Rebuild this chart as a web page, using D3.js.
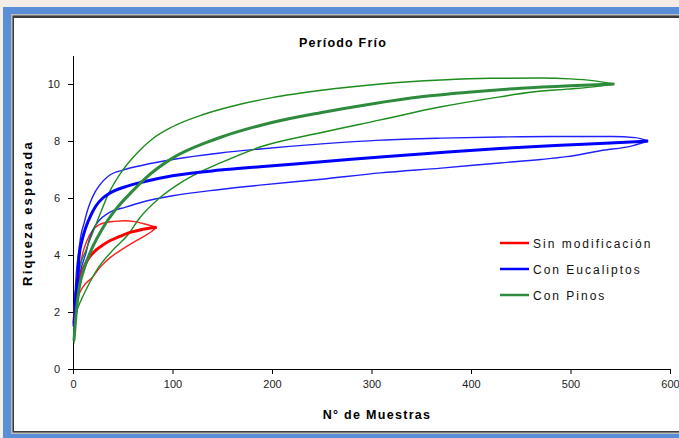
<!DOCTYPE html>
<html><head><meta charset="utf-8">
<script src="https://cdn.jsdelivr.net/npm/d3@7/dist/d3.min.js"></script>
<style>
html,body{margin:0;padding:0;background:#f4ece6;}
svg{display:block;}
text{font-family:"Liberation Sans",Arial,sans-serif;}
</style></head>
<body><svg id="c" width="679" height="438"></svg>
<script>
// ---- data (x = Nº de muestras, y = riqueza esperada) ----
const title = "Período Frío";
const xLabel = "N° de Muestras";
const yLabel = "Riqueza esperada";
const xTicks = [0,100,200,300,400,500,600];
const yTicks = [0,2,4,6,8,10];
const seriesNames = ["Sin modificación","Con Eucaliptos","Con Pinos"];

const redMean  = [[1,1.6],[3,2.6],[5,3.0],[8,3.3],[12,3.65],[17,3.95],[23,4.17],[30,4.35],[37,4.5],[47,4.65],[55,4.77],[65,4.86],[75,4.93],[84,4.97]];
const redUpper = [[1,1.8],[3,2.9],[5,3.3],[7,3.6],[10,4.1],[14,4.5],[20,4.88],[26,5.06],[33,5.14],[42,5.18],[52,5.2],[62,5.17],[73,5.08],[84,4.97]];
const redLower = [[1,1.4],[3,2.2],[6,2.6],[10,2.88],[19,3.2],[28,3.6],[37,3.9],[46,4.12],[54,4.3],[62,4.47],[70,4.63],[78,4.8],[84,4.97]];

const blueMean  = [[1,1.5],[3,2.6],[5,3.3],[6,3.9],[9,4.5],[13,4.98],[18,5.4],[23,5.72],[30,6.0],[36,6.15],[53,6.4],[70,6.56],[100,6.78],[148,6.98],[188,7.1],[250,7.27],[309,7.44],[370,7.6],[429,7.74],[490,7.85],[540,7.93],[578,8.0]];
const blueUpper = [[1,1.8],[3,3.2],[6,4.2],[8,4.7],[11,5.1],[14,5.5],[18,5.9],[22,6.2],[26,6.42],[36,6.78],[50,6.98],[70,7.15],[100,7.35],[148,7.58],[188,7.72],[250,7.9],[309,8.03],[370,8.1],[429,8.14],[480,8.16],[542,8.16],[565,8.12],[578,8.0]];
const blueLower = [[1,1.2],[3,2.3],[5,2.9],[8,3.5],[11,3.85],[13,4.07],[16,4.5],[20,4.88],[26,5.2],[36,5.48],[53,5.68],[70,5.86],[100,6.08],[148,6.3],[188,6.45],[250,6.66],[309,6.88],[370,7.05],[429,7.23],[470,7.35],[496,7.45],[530,7.66],[563,7.84],[578,8.0]];

const greenMean  = [[1,1.0],[3,1.9],[6,2.8],[11,3.5],[20,4.3],[30,4.95],[43,5.6],[60,6.25],[73,6.7],[100,7.4],[135,7.96],[150,8.15],[200,8.65],[250,9.0],[300,9.3],[350,9.55],[400,9.72],[450,9.85],[500,9.94],[544,10.0]];
const greenUpper = [[1,1.2],[3,2.5],[6,3.4],[13,4.17],[20,4.8],[26,5.33],[36,6.17],[50,6.98],[65,7.6],[80,8.08],[100,8.5],[130,8.92],[160,9.22],[200,9.52],[250,9.78],[309,10.0],[370,10.14],[419,10.2],[470,10.21],[500,10.18],[522,10.12],[544,10.0]];
const greenLower = [[1,0.9],[3,1.9],[8,2.4],[13,2.77],[26,3.58],[40,4.17],[55,4.7],[67,5.3],[87,6.0],[108,6.53],[130,6.95],[148,7.23],[188,7.79],[250,8.3],[309,8.74],[370,9.2],[429,9.55],[462,9.72],[496,9.82],[523,9.9],[544,10.0]];

const colors = ["#ff0000","#0000ff","#2e8b3e"];
const thinColors = ["#ff2020","#2020ff","#1c8c1c"];

// ---- drawing ----
const svg = d3.select("#c");
const W = 679, H = 438;

// window frame
svg.append("rect").attr("x",3).attr("y",7).attr("width",W).attr("height",H).attr("fill","#5a8ed6");
svg.append("rect").attr("x",11).attr("y",14).attr("width",W).attr("height",420).attr("fill","#bdbdbd");
svg.append("rect").attr("x",12.5).attr("y",15.5).attr("width",W).attr("height",417).attr("fill","#3c3c3c");
svg.append("rect").attr("x",14).attr("y",18).attr("width",W).attr("height",413).attr("fill","#ffffff");

const x = d3.scaleLinear().domain([0,600]).range([73,670]);
const y = d3.scaleLinear().domain([0,11]).range([369,55.5]);

const xAxis = svg.append("g").attr("transform","translate(0,369)")
  .call(d3.axisBottom(x).tickValues(xTicks).tickSize(5).tickSizeOuter(0).tickPadding(6));
const yAxis = svg.append("g").attr("transform","translate(73,0)")
  .call(d3.axisLeft(y).tickValues(yTicks).tickSize(5).tickSizeOuter(0).tickPadding(8));
[xAxis,yAxis].forEach(g=>{
  g.selectAll("path,line").attr("stroke","#000").attr("stroke-width",1);
  g.selectAll("text").attr("font-size",11).attr("fill","#222").attr("font-family","Liberation Sans, Arial, sans-serif");
});

const line = d3.line().x(d=>x(d[0])).y(d=>y(d[1])).curve(d3.curveMonotoneX);

const groups = [
  [redLower, redUpper, redMean],
  [blueLower, blueUpper, blueMean],
  [greenLower, greenUpper, greenMean]
];
groups.forEach((g,i)=>{
  svg.append("path").attr("d",line(g[0])).attr("fill","none").attr("stroke",thinColors[i]).attr("stroke-width",1.4);
  svg.append("path").attr("d",line(g[1])).attr("fill","none").attr("stroke",thinColors[i]).attr("stroke-width",1.4);
});
groups.forEach((g,i)=>{
  svg.append("path").attr("d",line(g[2])).attr("fill","none").attr("stroke",colors[i]).attr("stroke-width",3);
});

// titles
svg.append("text").attr("x",343).attr("y",47).attr("text-anchor","middle")
  .attr("font-size",12.5).attr("font-weight","bold").attr("letter-spacing",1.2).text(title);
svg.append("text").attr("x",377).attr("y",419).attr("text-anchor","middle")
  .attr("font-size",12.5).attr("font-weight","bold").attr("letter-spacing",1.3).text(xLabel);
svg.append("text").attr("transform","translate(32,213) rotate(-90)").attr("text-anchor","middle")
  .attr("font-size",13).attr("font-weight","bold").attr("letter-spacing",2.2).text(yLabel);

// legend
seriesNames.forEach((n,i)=>{
  const ly = 243 + i*26;
  svg.append("line").attr("x1",500).attr("x2",529).attr("y1",ly).attr("y2",ly)
    .attr("stroke",colors[i]).attr("stroke-width",2.5);
  svg.append("text").attr("x",533).attr("y",ly+4.5).attr("font-size",12)
    .attr("letter-spacing",2.0).attr("fill","#111").text(n);
});
</script></body></html>
